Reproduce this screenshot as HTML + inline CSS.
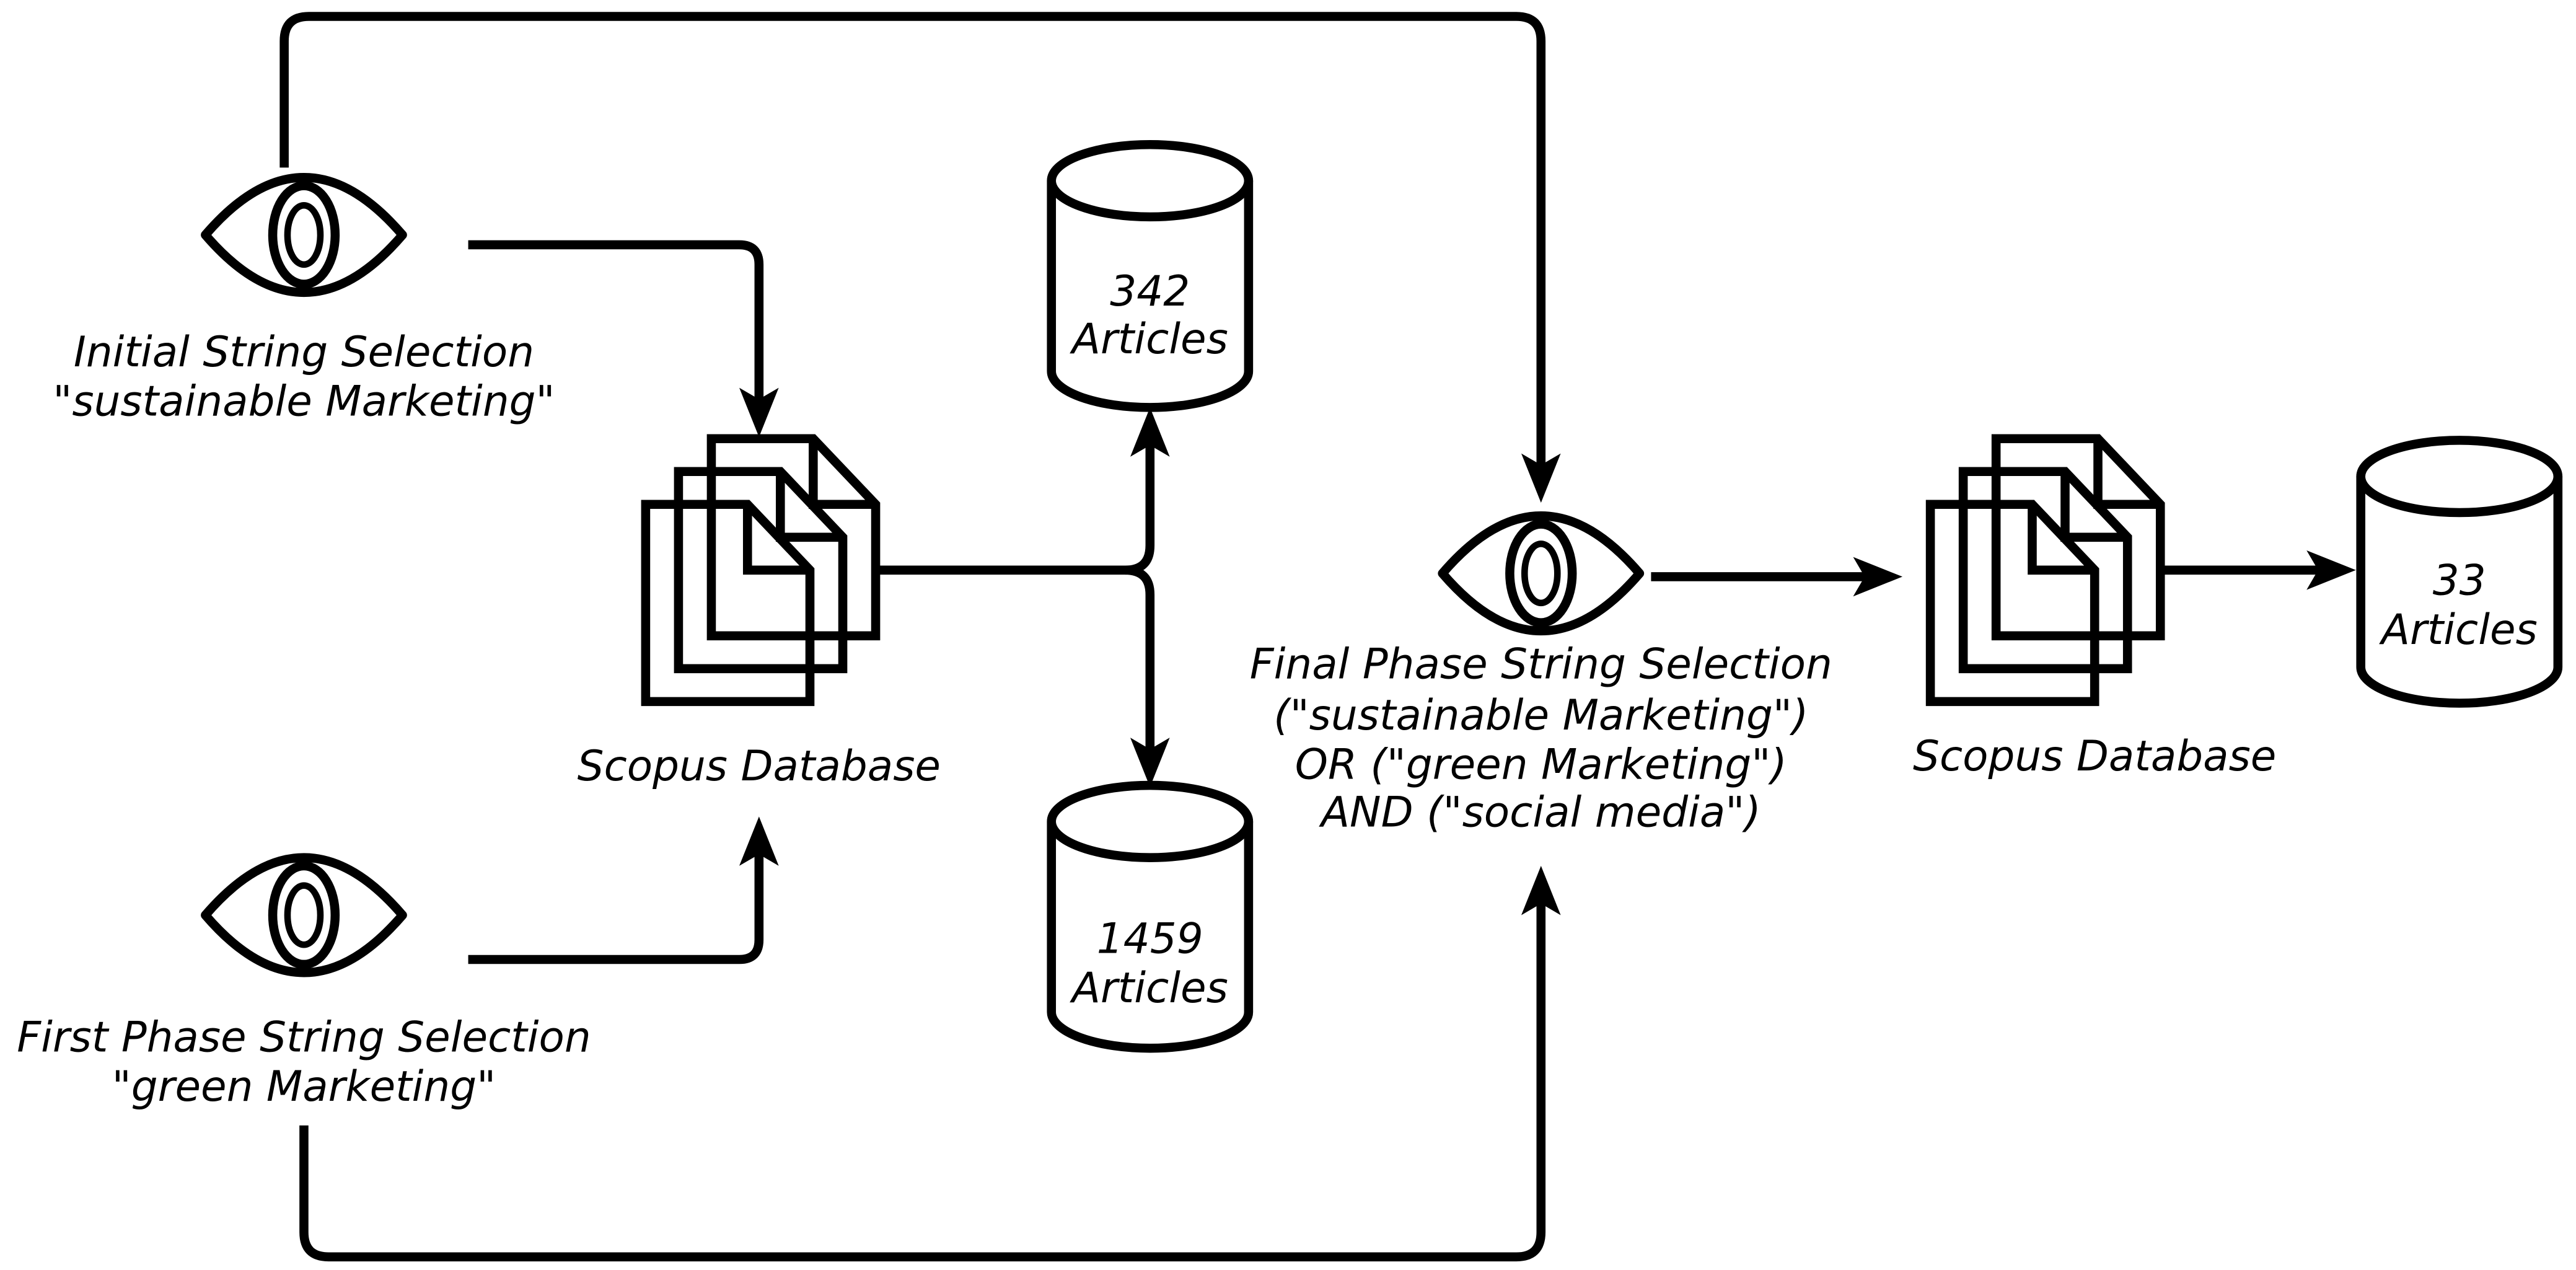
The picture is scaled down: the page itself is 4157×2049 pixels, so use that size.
<!DOCTYPE html>
<html><head><meta charset="utf-8"><style>
html,body{margin:0;padding:0;background:#fff;}
svg{display:block;}
text{font-family:"DejaVu Sans","Liberation Sans",sans-serif;font-style:italic;font-size:25.5px;fill:#000;text-anchor:middle;}
</style></head><body>
<svg width="4157" height="2049" viewBox="0 0 1568 773" preserveAspectRatio="none" xmlns="http://www.w3.org/2000/svg">
<defs>
<g id="eye">
<path d="M-60 0 Q0 -70 60 0 Q0 70 -60 0 Z" fill="none" stroke="#000" stroke-width="5.5" stroke-linejoin="round"/>
<ellipse cx="0" cy="0" rx="19" ry="30" fill="none" stroke="#000" stroke-width="5.5"/>
<ellipse cx="0" cy="0" rx="10" ry="18" fill="none" stroke="#000" stroke-width="4"/>
</g>
<g id="doc" fill="none" stroke="#000" stroke-width="5.5" stroke-linejoin="miter">
<path d="M0 0 H62 L100 40 V120 H0 Z"/>
<path d="M62 0 V40 H100"/>
</g>
<g id="stack">
<use href="#doc" x="40" y="0"/>
<use href="#doc" x="20" y="20"/>
<use href="#doc" x="0" y="40"/>
</g>
<g id="cyl" fill="none" stroke="#000" stroke-width="5.5">
<path d="M0 22 V138 A60 22 0 0 0 120 138 V22"/>
<ellipse cx="60" cy="22" rx="60" ry="22" fill="#fff"/>
</g>
</defs>
<g fill="none" stroke="#000" stroke-width="5.5">
<path d="M173 102 V25 Q173 10 188 10 H923 Q938 10 938 25 V285"/>
<path d="M285 149 H450 Q462 149 462 161 V245"/>
<path d="M285 584 H450 Q462 584 462 572 V517"/>
<path d="M185 685 V750 Q185 765 200 765 H923 Q938 765 938 750 V547"/>
<path d="M533 347 H685 Q700 347 700 332 V268"/>
<path d="M685 347 Q700 347 700 362 V458"/>
<path d="M1005 351 H1137"/>
<path d="M1315 347 H1413"/>
</g>
<g fill="#000">
<path d="M462 266 L450 236 L462 243 L474 236 Z"/>
<path d="M462 497 L450 527 L462 520 L474 527 Z"/>
<path d="M938 306 L926 276 L938 283 L950 276 Z"/>
<path d="M938 527 L926 557 L938 550 L950 557 Z"/>
<path d="M700 248 L688 278 L700 271 L712 278 Z"/>
<path d="M700 479 L688 449 L700 456 L712 449 Z"/>
<path d="M1158 351 L1128 339 L1135 351 L1128 363 Z"/>
<path d="M1434 347 L1404 335 L1411 347 L1404 359 Z"/>
</g>
<use href="#eye" x="185" y="143"/>
<use href="#eye" x="185" y="557"/>
<use href="#eye" x="938" y="349"/>
<use href="#stack" x="393" y="267"/>
<use href="#stack" x="1175" y="267"/>
<use href="#cyl" x="640" y="88"/>
<use href="#cyl" x="640" y="478"/>
<use href="#cyl" x="1437" y="268"/>
<text x="185" y="223">Initial String Selection</text>
<text x="185" y="253">"sustainable Marketing"</text>
<text x="462" y="475">Scopus Database</text>
<text x="185" y="640">First Phase String Selection</text>
<text x="185" y="670">"green Marketing"</text>
<text x="700" y="186">342</text>
<text x="700" y="215">Articles</text>
<text x="700" y="580">1459</text>
<text x="700" y="610">Articles</text>
<text x="938" y="413">Final Phase String Selection</text>
<text x="938" y="444">("sustainable Marketing")</text>
<text x="938" y="474">OR ("green Marketing")</text>
<text x="938" y="503">AND ("social media")</text>
<text x="1275" y="469">Scopus Database</text>
<text x="1497" y="362">33</text>
<text x="1497" y="392">Articles</text>
</svg>
</body></html>
